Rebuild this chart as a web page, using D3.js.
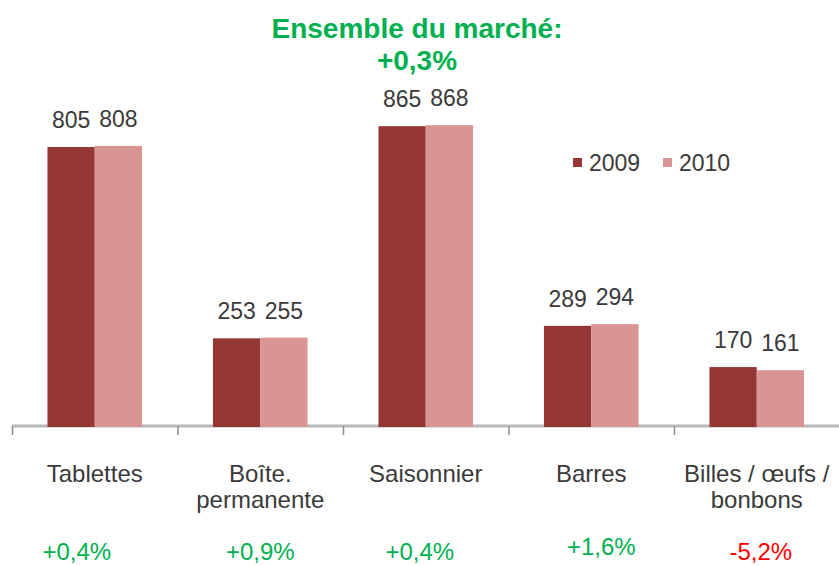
<!DOCTYPE html>
<html>
<head>
<meta charset="utf-8">
<script src="https://cdn.jsdelivr.net/npm/d3@7"></script>
<style>
  body { margin: 0; background: #fff; }
  text { font-family: "Liberation Sans", Arial, sans-serif; }
</style>
</head>
<body>
<svg id="chart"></svg>
<script>
// Data
const categories = ["Tablettes", "Boîte.\npermanente", "Saisonnier", "Barres", "Billes / œufs /\nbonbons"];
const series = ["2009", "2010"];
const values2009 = [805, 253, 865, 289, 170];
const values2010 = [808, 255, 868, 294, 161];
const changes = ["+0,4%", "+0,9%", "+0,4%", "+1,6%", "-5,2%"];
const titleLines = ["Ensemble du marché:", "+0,3%"];

// small hand nudges for the change labels (they sit in loose text boxes)
const changeDx = [-18, 0, -6, 10, 4];
const changeDy = [0, 0, 0, -5, 0];

const W = 839, H = 566;
const colors = { "2009": "#943634", "2010": "#d99594" };
const green = "#00b050", red = "#ff0000", textColor = "#3a3a3a";

const svg = d3.select("#chart")
    .attr("width", W)
    .attr("height", H);

const rows = categories.map((c, i) => ({ cat: c, "2009": values2009[i], "2010": values2010[i] }));

// Scales
const x0 = d3.scaleBand()
    .domain(categories)
    .range([12, 839.5])
    .padding(0);

const x1 = d3.scaleBand()
    .domain(series)
    .range([0, x0.bandwidth()])
    .paddingInner(0)
    .paddingOuter(0.75);

const y = d3.scaleLinear()
    .domain([0, 1000])
    .range([426, 79.4]);

// Axis line + ticks at band edges
svg.append("line")
    .attr("x1", 12).attr("x2", W)
    .attr("y1", y(0)).attr("y2", y(0))
    .attr("stroke", "#b8b8b8")
    .attr("stroke-width", 3);

svg.selectAll(".tick-mark")
    .data(categories)
    .enter().append("line")
    .attr("class", "tick-mark")
    .attr("x1", d => x0(d) + 0.5)
    .attr("x2", d => x0(d) + 0.5)
    .attr("y1", y(0))
    .attr("y2", y(0) + 9)
    .attr("stroke", "#8c8c8c")
    .attr("stroke-width", 1.5);

// Bars
const groups = svg.selectAll(".group")
    .data(rows)
    .enter().append("g")
    .attr("class", "group")
    .attr("transform", d => `translate(${x0(d.cat)},0)`);

groups.selectAll("rect")
    .data(d => series.map(s => ({ key: s, value: d[s] })))
    .enter().append("rect")
    .attr("x", d => x1(d.key))
    .attr("y", d => y(d.value))
    .attr("width", x1.bandwidth())
    .attr("height", d => y(0) - y(d.value) + 1)
    .attr("fill", d => colors[d.key]);

// Value labels
groups.selectAll(".val")
    .data(d => series.map(s => ({ key: s, value: d[s] })))
    .enter().append("text")
    .attr("class", "val")
    .attr("x", d => x1(d.key) + x1.bandwidth() / 2)
    .attr("y", d => y(d.value) - 19)
    .attr("text-anchor", "middle")
    .attr("font-size", 23)
    .attr("fill", textColor)
    .text(d => d.value);

// Category labels (may wrap on two lines)
svg.selectAll(".cat")
    .data(categories)
    .enter().append("text")
    .attr("class", "cat")
    .attr("text-anchor", "middle")
    .attr("font-size", 24)
    .attr("fill", textColor)
    .each(function(d) {
        const t = d3.select(this);
        d.split("\n").forEach((line, k) => {
            t.append("tspan")
                .attr("x", x0(d) + x0.bandwidth() / 2)
                .attr("y", 482 + k * 26)
                .attr("textLength", null)
                .text(line);
        });
    });

// Change labels under the categories
svg.selectAll(".chg")
    .data(changes)
    .enter().append("text")
    .attr("class", "chg")
    .attr("x", (d, i) => x0(categories[i]) + x0.bandwidth() / 2 + changeDx[i])
    .attr("y", (d, i) => 560 + changeDy[i])
    .attr("text-anchor", "middle")
    .attr("font-size", 24)
    .attr("fill", d => d.startsWith("-") ? red : green)
    .text(d => d);

// Title
svg.selectAll(".title")
    .data(titleLines)
    .enter().append("text")
    .attr("class", "title")
    .attr("x", 417)
    .attr("y", (d, i) => 38 + i * 32)
    .attr("text-anchor", "middle")
    .attr("font-size", 28)
    .attr("font-weight", "bold")
    .attr("fill", green)
    .text(d => d);

// Legend
const legend = svg.selectAll(".legend")
    .data(series)
    .enter().append("g")
    .attr("class", "legend")
    .attr("transform", (d, i) => `translate(${573 + i * 90},0)`);

legend.append("rect")
    .attr("x", 0).attr("y", 158)
    .attr("width", 9).attr("height", 9)
    .attr("fill", d => colors[d]);

legend.append("text")
    .attr("x", 16).attr("y", 171)
    .attr("font-size", 23)
    .attr("fill", textColor)
    .text(d => d);
</script>
</body>
</html>
